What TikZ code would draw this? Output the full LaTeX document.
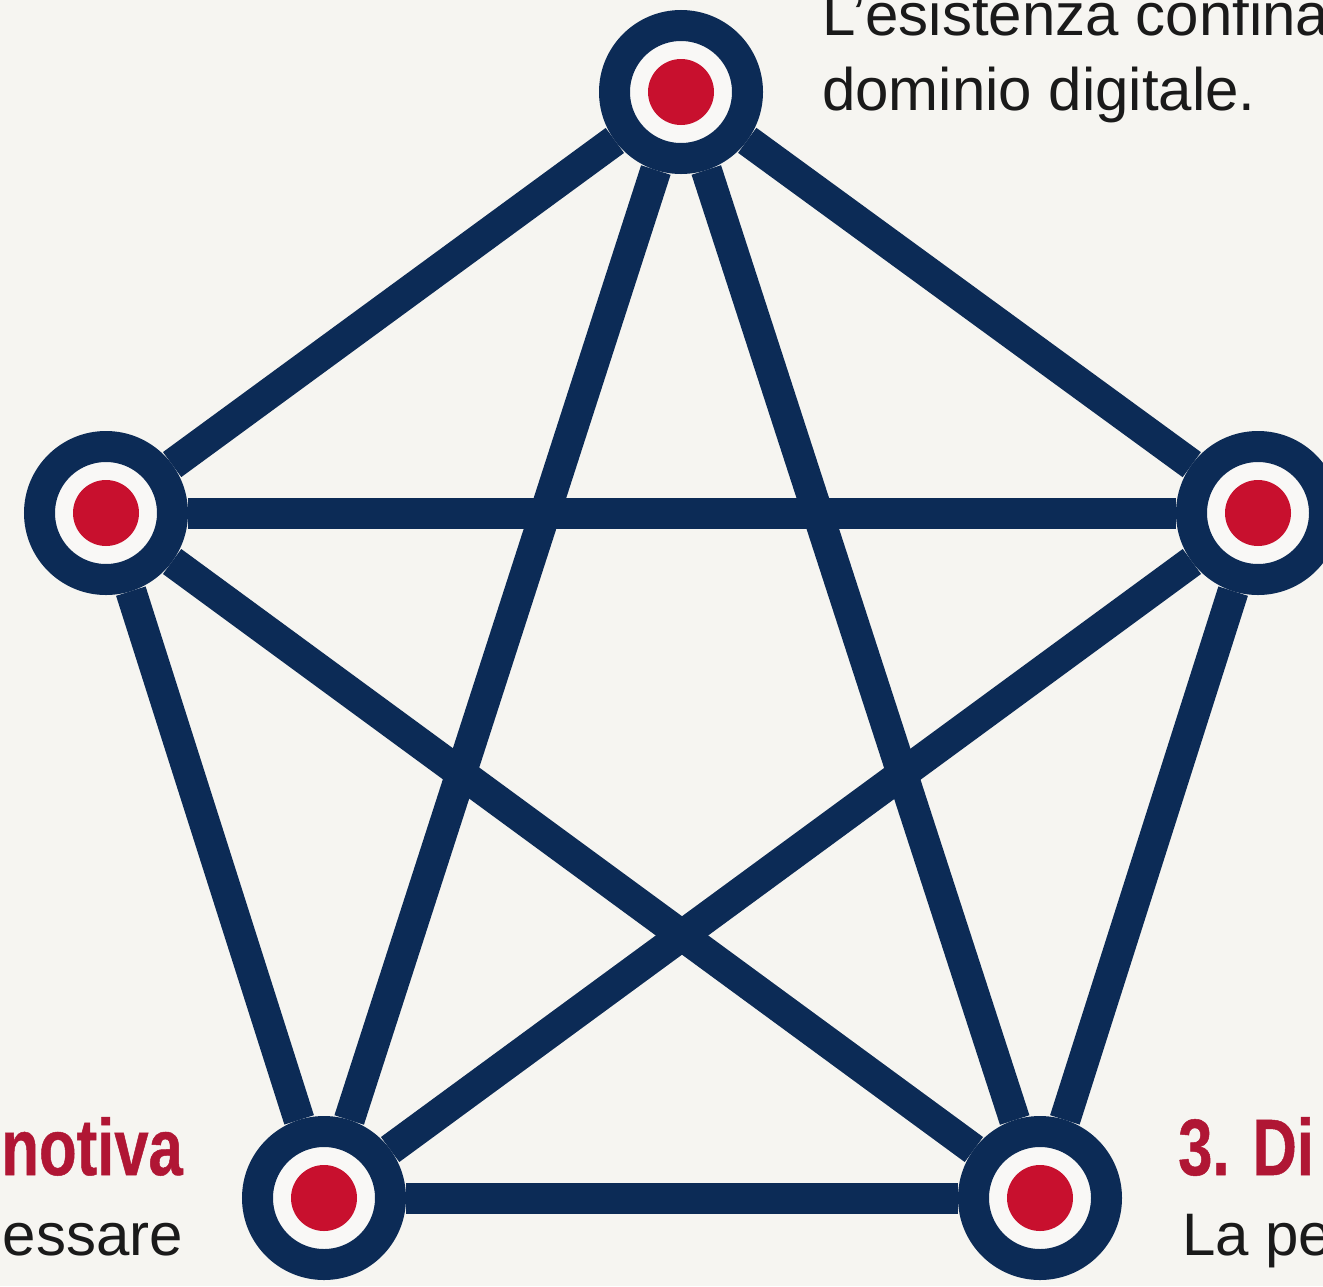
\documentclass[tikz,border=0pt]{standalone}
\usepackage{fontspec}
\setmainfont{Liberation Sans}
\newfontfamily\condbold[FakeStretch=0.77,FakeBold=0.6]{Liberation Sans Bold}
\usetikzlibrary{backgrounds}
\definecolor{bgc}{RGB}{246,245,241}
\definecolor{navy}{RGB}{12,43,86}
\definecolor{dotred}{RGB}{200,16,46}
\definecolor{titlered}{RGB}{176,22,52}
\definecolor{ringwhite}{RGB}{249,248,246}
\definecolor{bodytext}{RGB}{26,26,26}
\tikzset{
  hub/.style={circle, fill=ringwhite, draw=navy, line width=31pt, minimum size=133pt, inner sep=0pt,
    path picture={\fill[dotred] (path picture bounding box.center) circle (33pt);}},
  link/.style={draw=navy, line width=31pt},
  body/.style={font=\fontsize{60}{75}\selectfont, text=bodytext, inner sep=0pt},
  title/.style={font=\fontsize{80}{90}\condbold, text=titlered, inner sep=0pt}
}
\begin{document}
\begin{tikzpicture}[x=1pt,y=-1pt]
\useasboundingbox (0,0) rectangle (1323,1286);
\clip (0,0) rectangle (1323,1286);
% hubs
\node[hub] (t) at (681,92) {};
\node[hub] (l) at (106,513) {};
\node[hub] (r) at (1258,513) {};
\node[hub] (bl) at (324,1198) {};
\node[hub] (br) at (1040,1198) {};
% background and links
\begin{scope}[on background layer]
\fill[bgc] (0,0) rectangle (1323,1286);
\draw[link] (t) -- (l);
\draw[link] (t) -- (r);
\draw[link] (t) -- (bl);
\draw[link] (t) -- (br);
\draw[link] (l) -- (r);
\draw[link] (l) -- (bl);
\draw[link] (l) -- (br);
\draw[link] (r) -- (bl);
\draw[link] (r) -- (br);
\draw[link] (bl) -- (br);
\end{scope}
% texts
\node[body, anchor=base west] (t1) at (822,35) {L’esistenza confina};
\node[body, anchor=base west] (t2) at (822,110) {dominio digitale.};
\node[title, anchor=base east] (lt) at (183,1175) {notiva};
\node[body, anchor=base east] (lb) at (183,1255) {essare};
\node[title, anchor=base west] (rt) at (1178,1175) {3. Di};
\node[body, anchor=base west] (rb) at (1182,1255) {La pe};
\end{tikzpicture}
\end{document}
